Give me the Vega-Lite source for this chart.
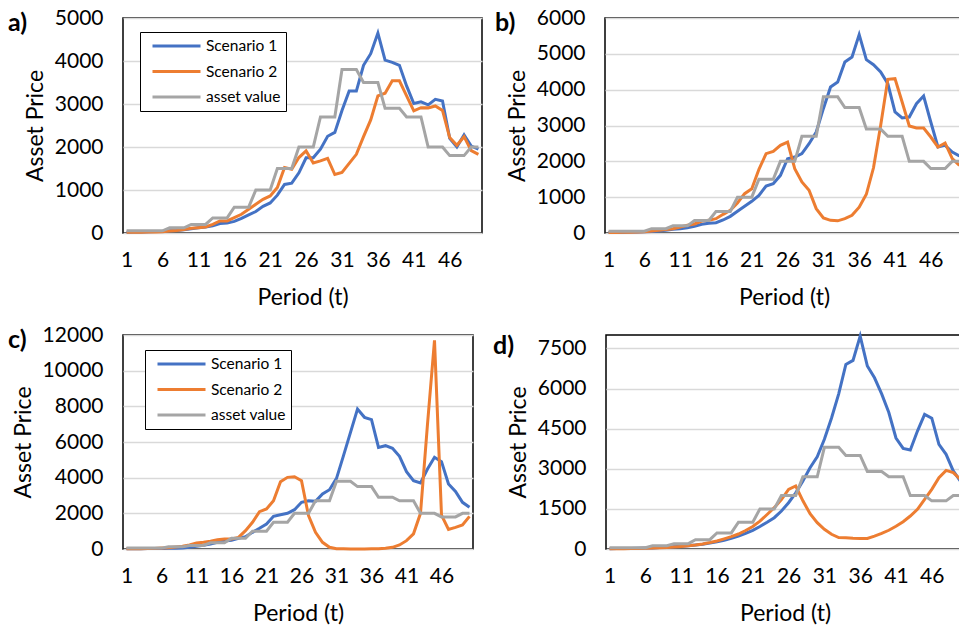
{
"$schema":"https://vega.github.io/schema/vega-lite/v6.json",
"padding":{"left":7,"top":6,"right":0,"bottom":0},
"background":"#ffffff",
"config":{
 "font":"Lato",
 "view":{"stroke":"#000000","strokeWidth":1.5},
 "axis":{"labelFont":"Lato","labelFontSize":21,"labelColor":"#000000","titleFont":"Lato","titleFontSize":23,"titleFontWeight":"normal","titleColor":"#000000","ticks":false,"domain":false,"format":"d"},
 "axisX":{"grid":false,"labelAngle":0,"labelPadding":16,"titlePadding":16},
 "axisY":{"grid":true,"gridColor":"#D9D9D9","gridWidth":1.5,"labelPadding":20,"titlePadding":7},
 "legend":{"orient":"none","direction":"vertical","strokeColor":"#000000","fillColor":"#ffffff","padding":5,"labelFont":"Lato","labelFontSize":15.5,"labelColor":"#000000","symbolType":"M-3.2,0H3.2","symbolSize":225,"symbolStrokeWidth":3,"symbolOffset":22.5,"labelOffset":20.5,"rowPadding":7.5},
 "title":{"font":"Lato","fontSize":25,"fontWeight":"bold","color":"#000000","anchor":"start","frame":"group","baseline":"top","offset":0},
 "line":{"strokeWidth":3}
},
"datasets":{
"a":[
{"period":1,"series":"Scenario 1","value":20},{"period":2,"series":"Scenario 1","value":22},{"period":3,"series":"Scenario 1","value":25},{"period":4,"series":"Scenario 1","value":28},{"period":5,"series":"Scenario 1","value":32},{"period":6,"series":"Scenario 1","value":38},{"period":7,"series":"Scenario 1","value":50},{"period":8,"series":"Scenario 1","value":60},{"period":9,"series":"Scenario 1","value":75},{"period":10,"series":"Scenario 1","value":100},
{"period":11,"series":"Scenario 1","value":120},{"period":12,"series":"Scenario 1","value":140},{"period":13,"series":"Scenario 1","value":170},{"period":14,"series":"Scenario 1","value":220},{"period":15,"series":"Scenario 1","value":230},{"period":16,"series":"Scenario 1","value":270},{"period":17,"series":"Scenario 1","value":340},{"period":18,"series":"Scenario 1","value":420},{"period":19,"series":"Scenario 1","value":500},{"period":20,"series":"Scenario 1","value":620},
{"period":21,"series":"Scenario 1","value":700},{"period":22,"series":"Scenario 1","value":880},{"period":23,"series":"Scenario 1","value":1130},{"period":24,"series":"Scenario 1","value":1160},{"period":25,"series":"Scenario 1","value":1400},{"period":26,"series":"Scenario 1","value":1750},{"period":27,"series":"Scenario 1","value":1750},{"period":28,"series":"Scenario 1","value":1950},{"period":29,"series":"Scenario 1","value":2250},{"period":30,"series":"Scenario 1","value":2340},
{"period":31,"series":"Scenario 1","value":2850},{"period":32,"series":"Scenario 1","value":3300},{"period":33,"series":"Scenario 1","value":3300},{"period":34,"series":"Scenario 1","value":3900},{"period":35,"series":"Scenario 1","value":4170},{"period":36,"series":"Scenario 1","value":4650},{"period":37,"series":"Scenario 1","value":4020},{"period":38,"series":"Scenario 1","value":3970},{"period":39,"series":"Scenario 1","value":3900},{"period":40,"series":"Scenario 1","value":3420},
{"period":41,"series":"Scenario 1","value":3010},{"period":42,"series":"Scenario 1","value":3050},{"period":43,"series":"Scenario 1","value":2980},{"period":44,"series":"Scenario 1","value":3110},{"period":45,"series":"Scenario 1","value":3070},{"period":46,"series":"Scenario 1","value":2200},{"period":47,"series":"Scenario 1","value":2000},{"period":48,"series":"Scenario 1","value":2280},{"period":49,"series":"Scenario 1","value":2020},{"period":50,"series":"Scenario 1","value":1950},
{"period":1,"series":"Scenario 2","value":15},{"period":2,"series":"Scenario 2","value":18},{"period":3,"series":"Scenario 2","value":20},{"period":4,"series":"Scenario 2","value":22},{"period":5,"series":"Scenario 2","value":25},{"period":6,"series":"Scenario 2","value":30},{"period":7,"series":"Scenario 2","value":45},{"period":8,"series":"Scenario 2","value":60},{"period":9,"series":"Scenario 2","value":80},{"period":10,"series":"Scenario 2","value":110},
{"period":11,"series":"Scenario 2","value":124},{"period":12,"series":"Scenario 2","value":140},{"period":13,"series":"Scenario 2","value":200},{"period":14,"series":"Scenario 2","value":280},{"period":15,"series":"Scenario 2","value":280},{"period":16,"series":"Scenario 2","value":357},{"period":17,"series":"Scenario 2","value":435},{"period":18,"series":"Scenario 2","value":551},{"period":19,"series":"Scenario 2","value":668},{"period":20,"series":"Scenario 2","value":784},
{"period":21,"series":"Scenario 2","value":862},{"period":22,"series":"Scenario 2","value":1056},{"period":23,"series":"Scenario 2","value":1522},{"period":24,"series":"Scenario 2","value":1483},{"period":25,"series":"Scenario 2","value":1755},{"period":26,"series":"Scenario 2","value":1910},{"period":27,"series":"Scenario 2","value":1630},{"period":28,"series":"Scenario 2","value":1677},{"period":29,"series":"Scenario 2","value":1735},{"period":30,"series":"Scenario 2","value":1360},
{"period":31,"series":"Scenario 2","value":1410},{"period":32,"series":"Scenario 2","value":1620},{"period":33,"series":"Scenario 2","value":1830},{"period":34,"series":"Scenario 2","value":2240},{"period":35,"series":"Scenario 2","value":2630},{"period":36,"series":"Scenario 2","value":3190},{"period":37,"series":"Scenario 2","value":3250},{"period":38,"series":"Scenario 2","value":3540},{"period":39,"series":"Scenario 2","value":3540},{"period":40,"series":"Scenario 2","value":3190},
{"period":41,"series":"Scenario 2","value":2840},{"period":42,"series":"Scenario 2","value":2915},{"period":43,"series":"Scenario 2","value":2910},{"period":44,"series":"Scenario 2","value":2955},{"period":45,"series":"Scenario 2","value":2850},{"period":46,"series":"Scenario 2","value":2220},{"period":47,"series":"Scenario 2","value":2040},{"period":48,"series":"Scenario 2","value":2240},{"period":49,"series":"Scenario 2","value":1915},{"period":50,"series":"Scenario 2","value":1830},
{"period":1,"series":"asset value","value":50},{"period":2,"series":"asset value","value":50},{"period":3,"series":"asset value","value":50},{"period":4,"series":"asset value","value":50},{"period":5,"series":"asset value","value":50},{"period":6,"series":"asset value","value":50},{"period":7,"series":"asset value","value":120},{"period":8,"series":"asset value","value":120},{"period":9,"series":"asset value","value":120},{"period":10,"series":"asset value","value":200},
{"period":11,"series":"asset value","value":200},{"period":12,"series":"asset value","value":200},{"period":13,"series":"asset value","value":350},{"period":14,"series":"asset value","value":350},{"period":15,"series":"asset value","value":350},{"period":16,"series":"asset value","value":600},{"period":17,"series":"asset value","value":600},{"period":18,"series":"asset value","value":600},{"period":19,"series":"asset value","value":1000},{"period":20,"series":"asset value","value":1000},
{"period":21,"series":"asset value","value":1000},{"period":22,"series":"asset value","value":1500},{"period":23,"series":"asset value","value":1500},{"period":24,"series":"asset value","value":1500},{"period":25,"series":"asset value","value":2000},{"period":26,"series":"asset value","value":2000},{"period":27,"series":"asset value","value":2000},{"period":28,"series":"asset value","value":2700},{"period":29,"series":"asset value","value":2700},{"period":30,"series":"asset value","value":2700},
{"period":31,"series":"asset value","value":3800},{"period":32,"series":"asset value","value":3800},{"period":33,"series":"asset value","value":3800},{"period":34,"series":"asset value","value":3500},{"period":35,"series":"asset value","value":3500},{"period":36,"series":"asset value","value":3500},{"period":37,"series":"asset value","value":2900},{"period":38,"series":"asset value","value":2900},{"period":39,"series":"asset value","value":2900},{"period":40,"series":"asset value","value":2700},
{"period":41,"series":"asset value","value":2700},{"period":42,"series":"asset value","value":2700},{"period":43,"series":"asset value","value":2000},{"period":44,"series":"asset value","value":2000},{"period":45,"series":"asset value","value":2000},{"period":46,"series":"asset value","value":1800},{"period":47,"series":"asset value","value":1800},{"period":48,"series":"asset value","value":1800},{"period":49,"series":"asset value","value":2000},{"period":50,"series":"asset value","value":2000}
],
"b":[
{"period":1,"series":"Scenario 1","value":15},{"period":2,"series":"Scenario 1","value":18},{"period":3,"series":"Scenario 1","value":22},{"period":4,"series":"Scenario 1","value":26},{"period":5,"series":"Scenario 1","value":30},{"period":6,"series":"Scenario 1","value":36},{"period":7,"series":"Scenario 1","value":45},{"period":8,"series":"Scenario 1","value":58},{"period":9,"series":"Scenario 1","value":75},{"period":10,"series":"Scenario 1","value":102},
{"period":11,"series":"Scenario 1","value":121},{"period":12,"series":"Scenario 1","value":149},{"period":13,"series":"Scenario 1","value":186},{"period":14,"series":"Scenario 1","value":242},{"period":15,"series":"Scenario 1","value":270},{"period":16,"series":"Scenario 1","value":288},{"period":17,"series":"Scenario 1","value":363},{"period":18,"series":"Scenario 1","value":465},{"period":19,"series":"Scenario 1","value":605},{"period":20,"series":"Scenario 1","value":744},
{"period":21,"series":"Scenario 1","value":884},{"period":22,"series":"Scenario 1","value":1051},{"period":23,"series":"Scenario 1","value":1312},{"period":24,"series":"Scenario 1","value":1377},{"period":25,"series":"Scenario 1","value":1609},{"period":26,"series":"Scenario 1","value":2074},{"period":27,"series":"Scenario 1","value":2121},{"period":28,"series":"Scenario 1","value":2214},{"period":29,"series":"Scenario 1","value":2493},{"period":30,"series":"Scenario 1","value":2818},
{"period":31,"series":"Scenario 1","value":3470},{"period":32,"series":"Scenario 1","value":4074},{"period":33,"series":"Scenario 1","value":4214},{"period":34,"series":"Scenario 1","value":4772},{"period":35,"series":"Scenario 1","value":4912},{"period":36,"series":"Scenario 1","value":5535},{"period":37,"series":"Scenario 1","value":4837},{"period":38,"series":"Scenario 1","value":4698},{"period":39,"series":"Scenario 1","value":4493},{"period":40,"series":"Scenario 1","value":4167},
{"period":41,"series":"Scenario 1","value":3377},{"period":42,"series":"Scenario 1","value":3209},{"period":43,"series":"Scenario 1","value":3237},{"period":44,"series":"Scenario 1","value":3609},{"period":45,"series":"Scenario 1","value":3823},{"period":46,"series":"Scenario 1","value":3098},{"period":47,"series":"Scenario 1","value":2400},{"period":48,"series":"Scenario 1","value":2446},{"period":49,"series":"Scenario 1","value":2260},{"period":50,"series":"Scenario 1","value":2149},
{"period":1,"series":"Scenario 2","value":12},{"period":2,"series":"Scenario 2","value":15},{"period":3,"series":"Scenario 2","value":18},{"period":4,"series":"Scenario 2","value":22},{"period":5,"series":"Scenario 2","value":28},{"period":6,"series":"Scenario 2","value":37},{"period":7,"series":"Scenario 2","value":56},{"period":8,"series":"Scenario 2","value":74},{"period":9,"series":"Scenario 2","value":100},{"period":10,"series":"Scenario 2","value":121},
{"period":11,"series":"Scenario 2","value":167},{"period":12,"series":"Scenario 2","value":214},{"period":13,"series":"Scenario 2","value":251},{"period":14,"series":"Scenario 2","value":335},{"period":15,"series":"Scenario 2","value":353},{"period":16,"series":"Scenario 2","value":400},{"period":17,"series":"Scenario 2","value":521},{"period":18,"series":"Scenario 2","value":633},{"period":19,"series":"Scenario 2","value":837},{"period":20,"series":"Scenario 2","value":1098},
{"period":21,"series":"Scenario 2","value":1237},{"period":22,"series":"Scenario 2","value":1777},{"period":23,"series":"Scenario 2","value":2214},{"period":24,"series":"Scenario 2","value":2279},{"period":25,"series":"Scenario 2","value":2446},{"period":26,"series":"Scenario 2","value":2539},{"period":27,"series":"Scenario 2","value":1795},{"period":28,"series":"Scenario 2","value":1423},{"period":29,"series":"Scenario 2","value":1191},{"period":30,"series":"Scenario 2","value":679},
{"period":31,"series":"Scenario 2","value":420},{"period":32,"series":"Scenario 2","value":353},{"period":33,"series":"Scenario 2","value":340},{"period":34,"series":"Scenario 2","value":400},{"period":35,"series":"Scenario 2","value":493},{"period":36,"series":"Scenario 2","value":720},{"period":37,"series":"Scenario 2","value":1080},{"period":38,"series":"Scenario 2","value":1820},{"period":39,"series":"Scenario 2","value":3000},{"period":40,"series":"Scenario 2","value":4288},
{"period":41,"series":"Scenario 2","value":4307},{"period":42,"series":"Scenario 2","value":3656},{"period":43,"series":"Scenario 2","value":2986},{"period":44,"series":"Scenario 2","value":2930},{"period":45,"series":"Scenario 2","value":2930},{"period":46,"series":"Scenario 2","value":2679},{"period":47,"series":"Scenario 2","value":2400},{"period":48,"series":"Scenario 2","value":2512},{"period":49,"series":"Scenario 2","value":2074},{"period":50,"series":"Scenario 2","value":1888},
{"period":1,"series":"asset value","value":50},{"period":2,"series":"asset value","value":50},{"period":3,"series":"asset value","value":50},{"period":4,"series":"asset value","value":50},{"period":5,"series":"asset value","value":50},{"period":6,"series":"asset value","value":50},{"period":7,"series":"asset value","value":120},{"period":8,"series":"asset value","value":120},{"period":9,"series":"asset value","value":120},{"period":10,"series":"asset value","value":200},
{"period":11,"series":"asset value","value":200},{"period":12,"series":"asset value","value":200},{"period":13,"series":"asset value","value":350},{"period":14,"series":"asset value","value":350},{"period":15,"series":"asset value","value":350},{"period":16,"series":"asset value","value":600},{"period":17,"series":"asset value","value":600},{"period":18,"series":"asset value","value":600},{"period":19,"series":"asset value","value":1000},{"period":20,"series":"asset value","value":1000},
{"period":21,"series":"asset value","value":1000},{"period":22,"series":"asset value","value":1500},{"period":23,"series":"asset value","value":1500},{"period":24,"series":"asset value","value":1500},{"period":25,"series":"asset value","value":2000},{"period":26,"series":"asset value","value":2000},{"period":27,"series":"asset value","value":2000},{"period":28,"series":"asset value","value":2700},{"period":29,"series":"asset value","value":2700},{"period":30,"series":"asset value","value":2700},
{"period":31,"series":"asset value","value":3800},{"period":32,"series":"asset value","value":3800},{"period":33,"series":"asset value","value":3800},{"period":34,"series":"asset value","value":3500},{"period":35,"series":"asset value","value":3500},{"period":36,"series":"asset value","value":3500},{"period":37,"series":"asset value","value":2900},{"period":38,"series":"asset value","value":2900},{"period":39,"series":"asset value","value":2900},{"period":40,"series":"asset value","value":2700},
{"period":41,"series":"asset value","value":2700},{"period":42,"series":"asset value","value":2700},{"period":43,"series":"asset value","value":2000},{"period":44,"series":"asset value","value":2000},{"period":45,"series":"asset value","value":2000},{"period":46,"series":"asset value","value":1800},{"period":47,"series":"asset value","value":1800},{"period":48,"series":"asset value","value":1800},{"period":49,"series":"asset value","value":2000},{"period":50,"series":"asset value","value":2000}
],
"c":[
{"period":1,"series":"Scenario 1","value":15},{"period":2,"series":"Scenario 1","value":18},{"period":3,"series":"Scenario 1","value":20},{"period":4,"series":"Scenario 1","value":25},{"period":5,"series":"Scenario 1","value":30},{"period":6,"series":"Scenario 1","value":35},{"period":7,"series":"Scenario 1","value":40},{"period":8,"series":"Scenario 1","value":45},{"period":9,"series":"Scenario 1","value":56},{"period":10,"series":"Scenario 1","value":93},
{"period":11,"series":"Scenario 1","value":150},{"period":12,"series":"Scenario 1","value":206},{"period":13,"series":"Scenario 1","value":280},{"period":14,"series":"Scenario 1","value":374},{"period":15,"series":"Scenario 1","value":449},{"period":16,"series":"Scenario 1","value":486},{"period":17,"series":"Scenario 1","value":598},{"period":18,"series":"Scenario 1","value":692},{"period":19,"series":"Scenario 1","value":935},{"period":20,"series":"Scenario 1","value":1159},
{"period":21,"series":"Scenario 1","value":1402},{"period":22,"series":"Scenario 1","value":1832},{"period":23,"series":"Scenario 1","value":1925},{"period":24,"series":"Scenario 1","value":2000},{"period":25,"series":"Scenario 1","value":2205},{"period":26,"series":"Scenario 1","value":2617},{"period":27,"series":"Scenario 1","value":2710},{"period":28,"series":"Scenario 1","value":2673},{"period":29,"series":"Scenario 1","value":3084},{"period":30,"series":"Scenario 1","value":3327},
{"period":31,"series":"Scenario 1","value":3962},{"period":32,"series":"Scenario 1","value":5233},{"period":33,"series":"Scenario 1","value":6542},{"period":34,"series":"Scenario 1","value":7850},{"period":35,"series":"Scenario 1","value":7383},{"period":36,"series":"Scenario 1","value":7252},{"period":37,"series":"Scenario 1","value":5700},{"period":38,"series":"Scenario 1","value":5794},{"period":39,"series":"Scenario 1","value":5644},{"period":40,"series":"Scenario 1","value":5196},
{"period":41,"series":"Scenario 1","value":4336},{"period":42,"series":"Scenario 1","value":3831},{"period":43,"series":"Scenario 1","value":3700},{"period":44,"series":"Scenario 1","value":4486},{"period":45,"series":"Scenario 1","value":5140},{"period":46,"series":"Scenario 1","value":4897},{"period":47,"series":"Scenario 1","value":3645},{"period":48,"series":"Scenario 1","value":3233},{"period":49,"series":"Scenario 1","value":2617},{"period":50,"series":"Scenario 1","value":2336},
{"period":1,"series":"Scenario 2","value":12},{"period":2,"series":"Scenario 2","value":15},{"period":3,"series":"Scenario 2","value":20},{"period":4,"series":"Scenario 2","value":25},{"period":5,"series":"Scenario 2","value":35},{"period":6,"series":"Scenario 2","value":56},{"period":7,"series":"Scenario 2","value":75},{"period":8,"series":"Scenario 2","value":112},{"period":9,"series":"Scenario 2","value":150},{"period":10,"series":"Scenario 2","value":224},
{"period":11,"series":"Scenario 2","value":336},{"period":12,"series":"Scenario 2","value":374},{"period":13,"series":"Scenario 2","value":430},{"period":14,"series":"Scenario 2","value":523},{"period":15,"series":"Scenario 2","value":561},{"period":16,"series":"Scenario 2","value":561},{"period":17,"series":"Scenario 2","value":654},{"period":18,"series":"Scenario 2","value":1028},{"period":19,"series":"Scenario 2","value":1495},{"period":20,"series":"Scenario 2","value":2093},
{"period":21,"series":"Scenario 2","value":2243},{"period":22,"series":"Scenario 2","value":2710},{"period":23,"series":"Scenario 2","value":3775},{"period":24,"series":"Scenario 2","value":4018},{"period":25,"series":"Scenario 2","value":4056},{"period":26,"series":"Scenario 2","value":3831},{"period":27,"series":"Scenario 2","value":1869},{"period":28,"series":"Scenario 2","value":935},{"period":29,"series":"Scenario 2","value":374},{"period":30,"series":"Scenario 2","value":93},
{"period":31,"series":"Scenario 2","value":20},{"period":32,"series":"Scenario 2","value":10},{"period":33,"series":"Scenario 2","value":5},{"period":34,"series":"Scenario 2","value":5},{"period":35,"series":"Scenario 2","value":5},{"period":36,"series":"Scenario 2","value":10},{"period":37,"series":"Scenario 2","value":20},{"period":38,"series":"Scenario 2","value":37},{"period":39,"series":"Scenario 2","value":93},{"period":40,"series":"Scenario 2","value":224},
{"period":41,"series":"Scenario 2","value":467},{"period":42,"series":"Scenario 2","value":850},{"period":43,"series":"Scenario 2","value":2000},{"period":44,"series":"Scenario 2","value":7000},{"period":45,"series":"Scenario 2","value":11700},{"period":46,"series":"Scenario 2","value":1900},{"period":47,"series":"Scenario 2","value":1100},{"period":48,"series":"Scenario 2","value":1215},{"period":49,"series":"Scenario 2","value":1346},{"period":50,"series":"Scenario 2","value":1832},
{"period":1,"series":"asset value","value":50},{"period":2,"series":"asset value","value":50},{"period":3,"series":"asset value","value":50},{"period":4,"series":"asset value","value":50},{"period":5,"series":"asset value","value":50},{"period":6,"series":"asset value","value":50},{"period":7,"series":"asset value","value":120},{"period":8,"series":"asset value","value":120},{"period":9,"series":"asset value","value":120},{"period":10,"series":"asset value","value":200},
{"period":11,"series":"asset value","value":200},{"period":12,"series":"asset value","value":200},{"period":13,"series":"asset value","value":350},{"period":14,"series":"asset value","value":350},{"period":15,"series":"asset value","value":350},{"period":16,"series":"asset value","value":600},{"period":17,"series":"asset value","value":600},{"period":18,"series":"asset value","value":600},{"period":19,"series":"asset value","value":1000},{"period":20,"series":"asset value","value":1000},
{"period":21,"series":"asset value","value":1000},{"period":22,"series":"asset value","value":1500},{"period":23,"series":"asset value","value":1500},{"period":24,"series":"asset value","value":1500},{"period":25,"series":"asset value","value":2000},{"period":26,"series":"asset value","value":2000},{"period":27,"series":"asset value","value":2000},{"period":28,"series":"asset value","value":2700},{"period":29,"series":"asset value","value":2700},{"period":30,"series":"asset value","value":2700},
{"period":31,"series":"asset value","value":3800},{"period":32,"series":"asset value","value":3800},{"period":33,"series":"asset value","value":3800},{"period":34,"series":"asset value","value":3500},{"period":35,"series":"asset value","value":3500},{"period":36,"series":"asset value","value":3500},{"period":37,"series":"asset value","value":2900},{"period":38,"series":"asset value","value":2900},{"period":39,"series":"asset value","value":2900},{"period":40,"series":"asset value","value":2700},
{"period":41,"series":"asset value","value":2700},{"period":42,"series":"asset value","value":2700},{"period":43,"series":"asset value","value":2000},{"period":44,"series":"asset value","value":2000},{"period":45,"series":"asset value","value":2000},{"period":46,"series":"asset value","value":1800},{"period":47,"series":"asset value","value":1800},{"period":48,"series":"asset value","value":1800},{"period":49,"series":"asset value","value":2000},{"period":50,"series":"asset value","value":2000}
],
"d":[
{"period":1,"series":"Scenario 1","value":12},{"period":2,"series":"Scenario 1","value":15},{"period":3,"series":"Scenario 1","value":18},{"period":4,"series":"Scenario 1","value":22},{"period":5,"series":"Scenario 1","value":28},{"period":6,"series":"Scenario 1","value":34},{"period":7,"series":"Scenario 1","value":42},{"period":8,"series":"Scenario 1","value":52},{"period":9,"series":"Scenario 1","value":65},{"period":10,"series":"Scenario 1","value":80},
{"period":11,"series":"Scenario 1","value":100},{"period":12,"series":"Scenario 1","value":120},{"period":13,"series":"Scenario 1","value":150},{"period":14,"series":"Scenario 1","value":180},{"period":15,"series":"Scenario 1","value":220},{"period":16,"series":"Scenario 1","value":270},{"period":17,"series":"Scenario 1","value":330},{"period":18,"series":"Scenario 1","value":400},{"period":19,"series":"Scenario 1","value":480},{"period":20,"series":"Scenario 1","value":580},
{"period":21,"series":"Scenario 1","value":700},{"period":22,"series":"Scenario 1","value":840},{"period":23,"series":"Scenario 1","value":1000},{"period":24,"series":"Scenario 1","value":1170},{"period":25,"series":"Scenario 1","value":1420},{"period":26,"series":"Scenario 1","value":1730},{"period":27,"series":"Scenario 1","value":2100},{"period":28,"series":"Scenario 1","value":2540},{"period":29,"series":"Scenario 1","value":3040},{"period":30,"series":"Scenario 1","value":3450},
{"period":31,"series":"Scenario 1","value":4100},{"period":32,"series":"Scenario 1","value":4900},{"period":33,"series":"Scenario 1","value":5800},{"period":34,"series":"Scenario 1","value":6900},{"period":35,"series":"Scenario 1","value":7050},{"period":36,"series":"Scenario 1","value":7960},{"period":37,"series":"Scenario 1","value":6840},{"period":38,"series":"Scenario 1","value":6400},{"period":39,"series":"Scenario 1","value":5800},{"period":40,"series":"Scenario 1","value":5100},
{"period":41,"series":"Scenario 1","value":4150},{"period":42,"series":"Scenario 1","value":3760},{"period":43,"series":"Scenario 1","value":3700},{"period":44,"series":"Scenario 1","value":4410},{"period":45,"series":"Scenario 1","value":5030},{"period":46,"series":"Scenario 1","value":4890},{"period":47,"series":"Scenario 1","value":3910},{"period":48,"series":"Scenario 1","value":3540},{"period":49,"series":"Scenario 1","value":2920},{"period":50,"series":"Scenario 1","value":2540},
{"period":1,"series":"Scenario 2","value":9},{"period":2,"series":"Scenario 2","value":11},{"period":3,"series":"Scenario 2","value":14},{"period":4,"series":"Scenario 2","value":17},{"period":5,"series":"Scenario 2","value":22},{"period":6,"series":"Scenario 2","value":28},{"period":7,"series":"Scenario 2","value":35},{"period":8,"series":"Scenario 2","value":45},{"period":9,"series":"Scenario 2","value":58},{"period":10,"series":"Scenario 2","value":75},
{"period":11,"series":"Scenario 2","value":95},{"period":12,"series":"Scenario 2","value":120},{"period":13,"series":"Scenario 2","value":150},{"period":14,"series":"Scenario 2","value":190},{"period":15,"series":"Scenario 2","value":240},{"period":16,"series":"Scenario 2","value":300},{"period":17,"series":"Scenario 2","value":380},{"period":18,"series":"Scenario 2","value":460},{"period":19,"series":"Scenario 2","value":560},{"period":20,"series":"Scenario 2","value":690},
{"period":21,"series":"Scenario 2","value":840},{"period":22,"series":"Scenario 2","value":1040},{"period":23,"series":"Scenario 2","value":1290},{"period":24,"series":"Scenario 2","value":1545},{"period":25,"series":"Scenario 2","value":1850},{"period":26,"series":"Scenario 2","value":2230},{"period":27,"series":"Scenario 2","value":2355},{"period":28,"series":"Scenario 2","value":1800},{"period":29,"series":"Scenario 2","value":1320},{"period":30,"series":"Scenario 2","value":985},
{"period":31,"series":"Scenario 2","value":735},{"period":32,"series":"Scenario 2","value":550},{"period":33,"series":"Scenario 2","value":430},{"period":34,"series":"Scenario 2","value":420},{"period":35,"series":"Scenario 2","value":400},{"period":36,"series":"Scenario 2","value":395},{"period":37,"series":"Scenario 2","value":395},{"period":38,"series":"Scenario 2","value":480},{"period":39,"series":"Scenario 2","value":580},{"period":40,"series":"Scenario 2","value":700},
{"period":41,"series":"Scenario 2","value":850},{"period":42,"series":"Scenario 2","value":1020},{"period":43,"series":"Scenario 2","value":1234},{"period":44,"series":"Scenario 2","value":1483},{"period":45,"series":"Scenario 2","value":1856},{"period":46,"series":"Scenario 2","value":2230},{"period":47,"series":"Scenario 2","value":2666},{"period":48,"series":"Scenario 2","value":2940},{"period":49,"series":"Scenario 2","value":2853},{"period":50,"series":"Scenario 2","value":2604},
{"period":1,"series":"asset value","value":50},{"period":2,"series":"asset value","value":50},{"period":3,"series":"asset value","value":50},{"period":4,"series":"asset value","value":50},{"period":5,"series":"asset value","value":50},{"period":6,"series":"asset value","value":50},{"period":7,"series":"asset value","value":120},{"period":8,"series":"asset value","value":120},{"period":9,"series":"asset value","value":120},{"period":10,"series":"asset value","value":200},
{"period":11,"series":"asset value","value":200},{"period":12,"series":"asset value","value":200},{"period":13,"series":"asset value","value":350},{"period":14,"series":"asset value","value":350},{"period":15,"series":"asset value","value":350},{"period":16,"series":"asset value","value":600},{"period":17,"series":"asset value","value":600},{"period":18,"series":"asset value","value":600},{"period":19,"series":"asset value","value":1000},{"period":20,"series":"asset value","value":1000},
{"period":21,"series":"asset value","value":1000},{"period":22,"series":"asset value","value":1500},{"period":23,"series":"asset value","value":1500},{"period":24,"series":"asset value","value":1500},{"period":25,"series":"asset value","value":2000},{"period":26,"series":"asset value","value":2000},{"period":27,"series":"asset value","value":2000},{"period":28,"series":"asset value","value":2700},{"period":29,"series":"asset value","value":2700},{"period":30,"series":"asset value","value":2700},
{"period":31,"series":"asset value","value":3800},{"period":32,"series":"asset value","value":3800},{"period":33,"series":"asset value","value":3800},{"period":34,"series":"asset value","value":3500},{"period":35,"series":"asset value","value":3500},{"period":36,"series":"asset value","value":3500},{"period":37,"series":"asset value","value":2900},{"period":38,"series":"asset value","value":2900},{"period":39,"series":"asset value","value":2900},{"period":40,"series":"asset value","value":2700},
{"period":41,"series":"asset value","value":2700},{"period":42,"series":"asset value","value":2700},{"period":43,"series":"asset value","value":2000},{"period":44,"series":"asset value","value":2000},{"period":45,"series":"asset value","value":2000},{"period":46,"series":"asset value","value":1800},{"period":47,"series":"asset value","value":1800},{"period":48,"series":"asset value","value":1800},{"period":49,"series":"asset value","value":2000},{"period":50,"series":"asset value","value":2000}
]
},
"vconcat":[
{"hconcat":[
 {"title":{"text":"a)","dx":-115,"dy":33},"width":359,"height":215,"data":{"name":"a"},"mark":{"type":"line","strokeWidth":3},
  "encoding":{
   "x":{"field":"period","type":"ordinal","scale":{"padding":0.5},"axis":{"values":[1,6,11,16,21,26,31,36,41,46],"title":"Period (t)"}},
   "y":{"field":"value","type":"quantitative","scale":{"domain":[0,5000],"nice":false},"axis":{"values":[0,1000,2000,3000,4000,5000],"title":"Asset Price"}},
   "color":{"field":"series","type":"nominal","scale":{"domain":["Scenario 1","Scenario 2","asset value"],"range":["#4472C4","#ED7D31","#A5A5A5"]},"legend":{"title":null,"legendX":17,"legendY":14}}}},
 {"title":{"text":"b)","dx":-110,"dy":33},"width":358,"height":215,"data":{"name":"b"},"mark":{"type":"line","strokeWidth":3},
  "encoding":{
   "x":{"field":"period","type":"ordinal","scale":{"padding":0.5},"axis":{"values":[1,6,11,16,21,26,31,36,41,46],"title":"Period (t)"}},
   "y":{"field":"value","type":"quantitative","scale":{"domain":[0,6000],"nice":false},"axis":{"values":[0,1000,2000,3000,4000,5000,6000],"title":"Asset Price"}},
   "color":{"field":"series","type":"nominal","scale":{"domain":["Scenario 1","Scenario 2","asset value"],"range":["#4472C4","#ED7D31","#A5A5A5"]},"legend":{"title":null,"legendX":16,"legendY":16}}}}
],"spacing":8},
{"hconcat":[
 {"title":{"text":"c)","dx":-115,"dy":33},"width":350,"height":214,"data":{"name":"c"},"mark":{"type":"line","strokeWidth":3},
  "encoding":{
   "x":{"field":"period","type":"ordinal","scale":{"padding":0.5},"axis":{"values":[1,6,11,16,21,26,31,36,41,46],"title":"Period (t)"}},
   "y":{"field":"value","type":"quantitative","scale":{"domain":[0,12000],"nice":false},"axis":{"values":[0,2000,4000,6000,8000,10000,12000],"title":"Asset Price"}},
   "color":{"field":"series","type":"nominal","scale":{"domain":["Scenario 1","Scenario 2","asset value"],"range":["#4472C4","#ED7D31","#A5A5A5"]},"legend":{"title":null,"legendX":22,"legendY":15}}}},
 {"title":{"text":"d)","dx":-113,"dy":33},"width":358,"height":214,"data":{"name":"d"},"mark":{"type":"line","strokeWidth":3},
  "encoding":{
   "x":{"field":"period","type":"ordinal","scale":{"padding":0.5},"axis":{"values":[1,6,11,16,21,26,31,36,41,46],"title":"Period (t)"}},
   "y":{"field":"value","type":"quantitative","scale":{"domain":[0,8000],"nice":false},"axis":{"values":[0,1500,3000,4500,6000,7500],"title":"Asset Price"}},
   "color":{"field":"series","type":"nominal","scale":{"domain":["Scenario 1","Scenario 2","asset value"],"range":["#4472C4","#ED7D31","#A5A5A5"]},"legend":{"title":null,"legendX":19,"legendY":15}}}}
],"spacing":15}
],
"spacing":13,
"resolve":{"scale":{"color":"independent"}}
}
